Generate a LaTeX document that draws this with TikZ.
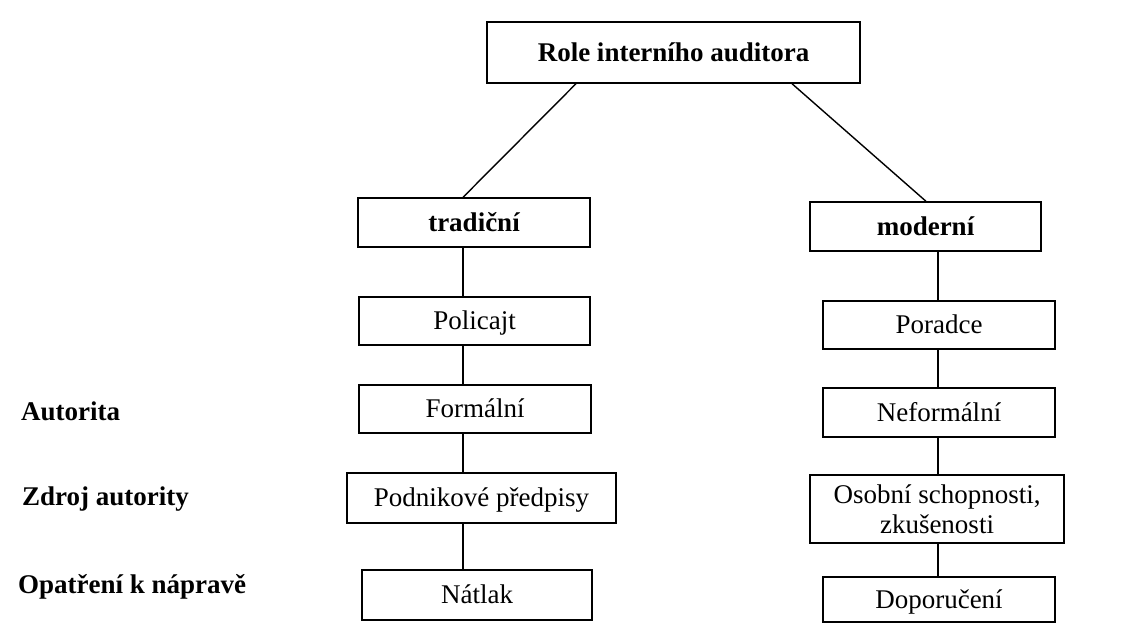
\documentclass[tikz,border=0pt]{standalone}
\usepackage{fontspec}
\setmainfont{Liberation Serif}
\begin{document}
\begin{tikzpicture}[x=1pt,y=-1pt,
  box/.style={draw=black,line width=1.4pt,rectangle,inner sep=2pt,
    text height=18pt,text depth=1pt,
    font=\fontsize{27}{30}\selectfont},
  bbox/.style={box,font=\fontsize{27}{30}\selectfont\bfseries},
  mbox/.style={draw=black,line width=1.4pt,rectangle,inner sep=2pt,align=center,
    font=\fontsize{27}{30}\selectfont},
  side/.style={anchor=base west,inner sep=0pt,font=\fontsize{27}{30}\selectfont\bfseries},
  conn/.style={draw=black,line width=1.4pt}]
\useasboundingbox[fill=white] (0,0) rectangle (1134,629);
% boxes
\node[bbox,minimum width=373pt,minimum height=61pt] (top) at (673.5,52.5) {Role interního auditora};
\node[bbox,minimum width=232pt,minimum height=49pt] (trad) at (474,222.5) {tradiční};
\node[bbox,minimum width=231pt,minimum height=49pt] (mod) at (925.5,226.5) {moderní};
\node[box,minimum width=231pt,minimum height=48pt] (pol) at (474.5,321) {Policajt};
\node[box,minimum width=232pt,minimum height=48pt] (por) at (939,325) {Poradce};
\node[box,minimum width=232pt,minimum height=48pt] (form) at (475,409) {Formální};
\node[box,minimum width=232pt,minimum height=49pt] (nef) at (939,412.5) {Neformální};
\node[box,minimum width=269pt,minimum height=50pt] (podn) at (481.5,498) {Podnikové předpisy};
\node[mbox,minimum width=254pt,minimum height=68pt] (osob) at (937,509) {Osobní schopnosti,\\zkušenosti};
\node[box,minimum width=230pt,minimum height=50pt] (natl) at (477,595) {Nátlak};
\node[box,minimum width=232pt,minimum height=45pt] (dop) at (939,599.5) {Doporučení};
% side labels
\node[side] (l1) at (21,420) {Autorita};
\node[side] (l2) at (22,505) {Zdroj autority};
\node[side] (l3) at (18,593) {Opatření k nápravě};
% connector columns
\coordinate (xa) at (576,0);
\coordinate (xb) at (792,0);
\coordinate (xl) at (463,0);
\coordinate (xm) at (926,0);
\coordinate (xr) at (938,0);
% connectors
\draw[conn] (top.south -| xa) -- (trad.north -| xl);
\draw[conn] (top.south -| xb) -- (mod.north -| xm);
\draw[conn] (trad.south -| xl) -- (pol.north -| xl);
\draw[conn] (pol.south -| xl) -- (form.north -| xl);
\draw[conn] (form.south -| xl) -- (podn.north -| xl);
\draw[conn] (podn.south -| xl) -- (natl.north -| xl);
\draw[conn] (mod.south -| xr) -- (por.north -| xr);
\draw[conn] (por.south -| xr) -- (nef.north -| xr);
\draw[conn] (nef.south -| xr) -- (osob.north -| xr);
\draw[conn] (osob.south -| xr) -- (dop.north -| xr);
\end{tikzpicture}
\end{document}
